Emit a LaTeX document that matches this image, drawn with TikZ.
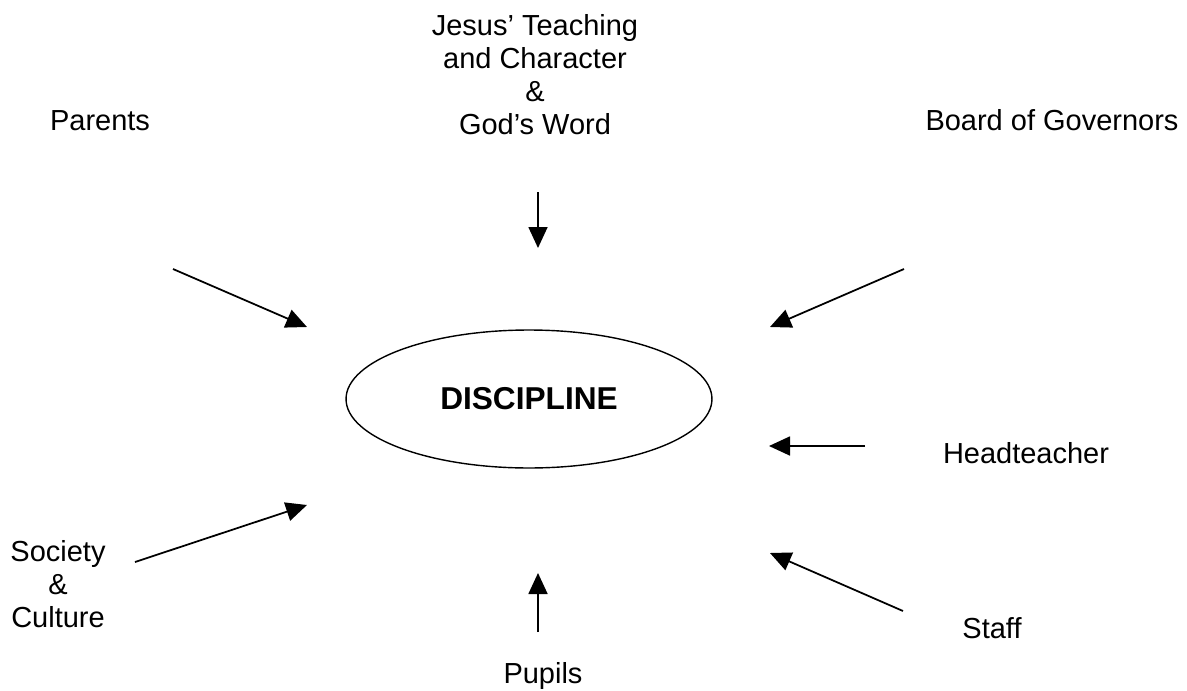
\documentclass[tikz,border=0pt]{standalone}
\usepackage{fontspec}
\setmainfont{Liberation Sans}
\usetikzlibrary{arrows.meta,shapes.geometric}
\tikzset{
  lbl/.style={font=\fontsize{16.5}{18.8}\selectfont, align=center, inner sep=0pt},
  arr/.style={line width=1pt, -{Triangle[length=0.42cm,width=0.38cm]}},
  disc/.style={ellipse, draw, line width=0.8pt, minimum width=7.32cm, minimum height=2.76cm, inner sep=0pt,
    font=\fontsize{18}{20}\selectfont\bfseries}
}
\begin{document}
\begin{tikzpicture}[x=0.02cm,y=-0.02cm]
\useasboundingbox (0,0) rectangle (1187,690);
% central ellipse
\node[disc] (d) at (529,399) {DISCIPLINE};
% labels
\node[lbl] (jesus) at (535,75) {Jesus’ Teaching\\and Character\\\&\\God’s Word};
\node[lbl, anchor=base] (parents) at (100,130) {Parents};
\node[lbl, anchor=base] (board) at (1052,130) {Board of Governors};
\node[lbl, anchor=base] (head) at (1026,463) {Headteacher};
\node[lbl] (society) at (58,584) {Society\\\&\\Culture};
\node[lbl, anchor=base] (staff) at (992,638) {Staff};
\node[lbl, anchor=base] (pupils) at (543,683) {Pupils};
% arrow endpoints
\coordinate (j1) at (538,192); \coordinate (j2) at (538,248);
\coordinate (p1) at (173,269); \coordinate (p2) at (307,327);
\coordinate (b1) at (904,269); \coordinate (b2) at (770,327);
\coordinate (h1) at (865,446); \coordinate (h2) at (769,446);
\coordinate (s1) at (135,562); \coordinate (s2) at (307,505);
\coordinate (t1) at (903,611); \coordinate (t2) at (770,553);
\coordinate (u1) at (538,632); \coordinate (u2) at (538,573);
\draw[arr] (j1) -- (j2);
\draw[arr] (p1) -- (p2);
\draw[arr] (b1) -- (b2);
\draw[arr] (h1) -- (h2);
\draw[arr] (s1) -- (s2);
\draw[arr] (t1) -- (t2);
\draw[arr] (u1) -- (u2);
\end{tikzpicture}
\end{document}
